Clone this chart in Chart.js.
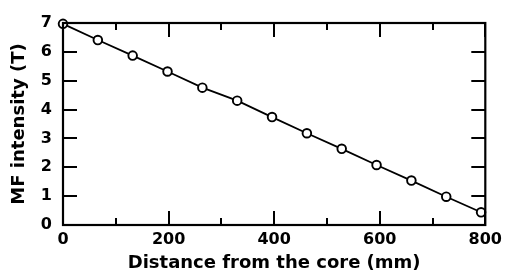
<!DOCTYPE html>
<html>
<head>
<meta charset="utf-8">
<script src="https://cdn.jsdelivr.net/npm/chart.js@4.4.1/dist/chart.umd.min.js"></script>
<style>
html,body{margin:0;padding:0;background:#fff;}
#wrap{width:507px;height:272px;}
</style>
</head>
<body>
<div id="wrap"><canvas id="c" width="507" height="272"></canvas></div>
<script>
const distances = [0, 66, 132, 198, 264, 330, 396, 462, 528, 594, 660, 726, 792];
const intensity = [6.97, 6.41, 5.87, 5.32, 4.76, 4.31, 3.74, 3.18, 2.64, 2.08, 1.54, 0.98, 0.44];
const xTicks = [0, 200, 400, 600, 800];
const xMinorTicks = [100, 300, 500, 700];
const yTicks = [0, 1, 2, 3, 4, 5, 6, 7];
const xTitle = 'Distance from the core (mm)';
const yTitle = 'MF intensity (T)';

const points = distances.map((d, i) => ({x: d, y: intensity[i]}));
const FONT = '"DejaVu Sans", "Liberation Sans", Arial, sans-serif';

const framePlugin = {
  id: 'frame',
  afterDatasetsDraw(chart) {
    const ctx = chart.ctx;
    const xs = chart.scales.x, ys = chart.scales.y;
    const a = chart.chartArea;
    ctx.save();
    ctx.strokeStyle = '#000';
    ctx.lineWidth = 2;
    ctx.beginPath();
    const major = 14, minor = 7;
    xTicks.forEach(v => {
      const px = Math.round(xs.getPixelForValue(v));
      ctx.moveTo(px, a.bottom); ctx.lineTo(px, a.bottom - major);
      ctx.moveTo(px, a.top); ctx.lineTo(px, a.top + major);
    });
    xMinorTicks.forEach(v => {
      const px = Math.round(xs.getPixelForValue(v));
      ctx.moveTo(px, a.bottom); ctx.lineTo(px, a.bottom - minor);
      ctx.moveTo(px, a.top); ctx.lineTo(px, a.top + minor);
    });
    yTicks.forEach(v => {
      const py = Math.round(ys.getPixelForValue(v));
      ctx.moveTo(a.left, py); ctx.lineTo(a.left + major, py);
      ctx.moveTo(a.right, py); ctx.lineTo(a.right - major, py);
    });
    ctx.stroke();
    ctx.lineWidth = 2.2;
    ctx.strokeRect(a.left, a.top, a.right - a.left, a.bottom - a.top);
    ctx.restore();
  }
};

new Chart(document.getElementById('c'), {
  type: 'scatter',
  data: {
    datasets: [{
      data: points,
      showLine: true,
      borderColor: '#000',
      borderWidth: 1.8,
      pointRadius: 4.3,
      pointBorderWidth: 1.9,
      pointBackgroundColor: '#fff',
      pointBorderColor: '#000',
      tension: 0
    }]
  },
  options: {
    responsive: false,
    animation: false,
    events: [],
    clip: false,
    layout: {padding: {top: 23, right: 19, left: 0, bottom: 0}},
    plugins: {legend: {display: false}, tooltip: {enabled: false}},
    scales: {
      x: {
        type: 'linear', min: 0, max: 800,
        afterFit(s) { s.height = 47; },
        afterBuildTicks(s) { s.ticks = xTicks.map(v => ({value: v})); },
        grid: {display: false, drawTicks: false},
        border: {display: false},
        ticks: {color: '#000', font: {family: FONT, size: 16, weight: 'bold'}, padding: 5, maxRotation: 0, autoSkip: false},
        title: {display: true, text: xTitle, color: '#000', font: {family: FONT, size: 18, weight: 'bold'}, padding: {top: 0, bottom: -2.5}}
      },
      y: {
        type: 'linear', min: 0, max: 7,
        afterFit(s) { s.width = 63; },
        afterBuildTicks(s) { s.ticks = yTicks.map(v => ({value: v})); },
        grid: {display: false, drawTicks: false},
        border: {display: false},
        ticks: {color: '#000', font: {family: FONT, size: 16, weight: 'bold'}, padding: 11, autoSkip: false},
        title: {display: true, text: yTitle, color: '#000', font: {family: FONT, size: 18, weight: 'bold'}, padding: {top: 9, bottom: 0}}
      }
    }
  },
  plugins: [framePlugin]
});
</script>
</body>
</html>
